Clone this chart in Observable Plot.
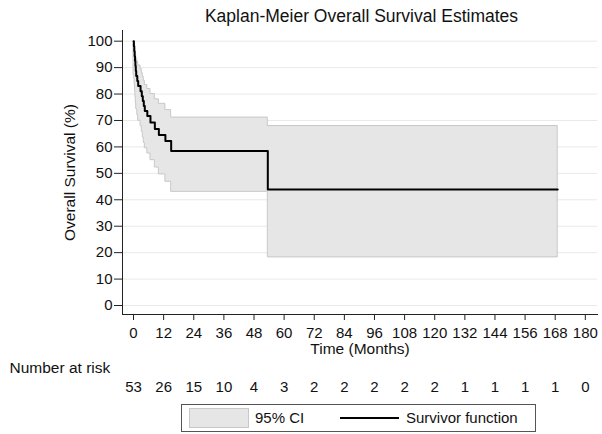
<!DOCTYPE html>
<html>
<head>
<meta charset="utf-8">
<script src="https://cdn.jsdelivr.net/npm/d3@7"></script>
<script src="https://cdn.jsdelivr.net/npm/@observablehq/plot@0.6"></script>
<style>
  html, body { margin: 0; padding: 0; background: white; }
  body { width: 602px; height: 434px; position: relative; overflow: hidden;
         font-family: "Liberation Sans", Arial, Helvetica, sans-serif; color: #111; }
  #title { position: absolute; left: 124px; width: 475px; top: 6px; text-align: center;
           font-size: 17.5px; line-height: 20px; }
  #chart { position: absolute; left: 0; top: 30px; }
  #legend { position: absolute; left: 181px; top: 404px; width: 355px; height: 28px;
            border: 1px solid #555; box-sizing: border-box; font-size: 15px; }
  #legend .sw { position: absolute; left: 7px; top: 3px; width: 60px; height: 20px; box-sizing: border-box; }
  #legend .ln { position: absolute; left: 158px; top: 12px; width: 59px; height: 2px; }
  #legend .t { position: absolute; top: 4px; line-height: 18px; white-space: nowrap; }
</style>
</head>
<body>
<div id="title"></div>
<div id="chart"></div>
<div id="legend">
  <div class="sw"></div><div class="t" id="l1" style="left:73px"></div>
  <div class="ln"></div><div class="t" id="l2" style="left:224px"></div>
</div>
<script>
// ---- data ----
const titleText = "Kaplan-Meier Overall Survival Estimates";
const yLabel = "Overall Survival (%)";
const xLabel = "Time (Months)";
const riskLabel = "Number at risk";
const legendLabels = ["95% CI", "Survivor function"];

// Kaplan-Meier step function (months, % surviving)
const times    = [0, 0.15, 0.3, 0.45, 0.6, 0.75, 0.9, 1.07, 1.5, 1.86, 2.8, 3.3, 3.7, 4.1, 4.5, 5.5, 6.75, 8.5, 10.1, 12.7, 15.0, 53.5, 169];
const survival = [100, 98.1, 96.2, 94.3, 92.5, 90.6, 88.7, 86.8, 84.9, 83.0, 81.1, 79.2, 77.4, 75.5, 73.6, 71.7, 69.2, 66.8, 64.5, 62.2, 58.5, 43.9, 43.9];
const ciLower  = [null, 87.2, 85.7, 83.5, 81.1, 78.8, 76.5, 74.3, 72.1, 69.9, 67.8, 65.7, 63.6, 61.5, 59.5, 57.5, 55.0, 52.2, 49.6, 46.8, 43.0, 18.2, 18.2];
const ciUpper  = [null, 99.7, 99.0, 98.1, 97.1, 96.0, 94.8, 93.5, 92.2, 90.8, 89.4, 87.9, 86.5, 85.0, 83.4, 81.9, 80.0, 78.0, 76.3, 73.9, 71.1, 67.9, 67.9];

const xTicks = [0, 12, 24, 36, 48, 60, 72, 84, 96, 108, 120, 132, 144, 156, 168, 180];
const yTicks = [0, 10, 20, 30, 40, 50, 60, 70, 80, 90, 100];
const atRisk = [53, 26, 15, 10, 4, 3, 2, 2, 2, 2, 2, 1, 1, 1, 1, 0];

// ---- styles ----
const bandFill = "#e6e6e6", bandStroke = "#c8c8c8", lineColor = "#000", gridColor = "#e9e9e9", axisColor = "#222";

const curve = times.map((t, i) => ({t, s: survival[i], lo: ciLower[i], hi: ciUpper[i]}));
const band = curve.filter(d => d.lo != null);
const risk = xTicks.map((t, i) => ({t, n: atRisk[i]}));

document.getElementById("title").textContent = titleText;
document.getElementById("l1").textContent = legendLabels[0];
document.getElementById("l2").textContent = legendLabels[1];
const sw = document.querySelector("#legend .sw");
sw.style.background = bandFill; sw.style.border = `1px solid ${bandStroke}`;
document.querySelector("#legend .ln").style.background = lineColor;

const chart = Plot.plot({
  width: 602,
  height: 372,
  marginLeft: 122,
  marginRight: 5,
  marginTop: 0,
  marginBottom: 88,
  x: {domain: [-4.39, 184.85], label: null},
  y: {domain: [-3.4, 104.04], label: null},
  style: {fontFamily: "'Liberation Sans', Arial, Helvetica, sans-serif", fontSize: "15px", color: "#111", background: "white", overflow: "visible"},
  marks: [
    Plot.ruleY(yTicks, {stroke: gridColor, strokeWidth: 1}),
    Plot.areaY(band, {x: "t", y1: "lo", y2: "hi", curve: "step-after", fill: bandFill, stroke: bandStroke, strokeWidth: 1}),
    Plot.line(curve, {x: "t", y: "s", curve: "step-after", stroke: lineColor, strokeWidth: 2}),
    Plot.axisY({ticks: yTicks, tickSize: 8, tickPadding: 2, label: null, fontSize: 15, stroke: axisColor}),
    Plot.axisX({ticks: xTicks, tickSize: 6, tickPadding: 7, label: null, fontSize: 15, stroke: axisColor}),
    Plot.frame({anchor: "left", stroke: axisColor}),
    Plot.frame({anchor: "bottom", stroke: axisColor}),
    Plot.text([yLabel], {frameAnchor: "left", text: d => d, rotate: -90, textAnchor: "middle", dx: -52, fontSize: 15.5}),
    Plot.text([xLabel], {frameAnchor: "bottom", text: d => d, dy: 39, fontSize: 15.5}),
    Plot.text([riskLabel], {frameAnchor: "bottom-left", text: d => d, dx: -113, dy: 58, textAnchor: "start", fontSize: 15.5}),
    Plot.text(risk, {x: "t", text: "n", frameAnchor: "bottom", dy: 77.5, fontSize: 15})
  ]
});
document.getElementById("chart").appendChild(chart);
</script>
</body>
</html>
